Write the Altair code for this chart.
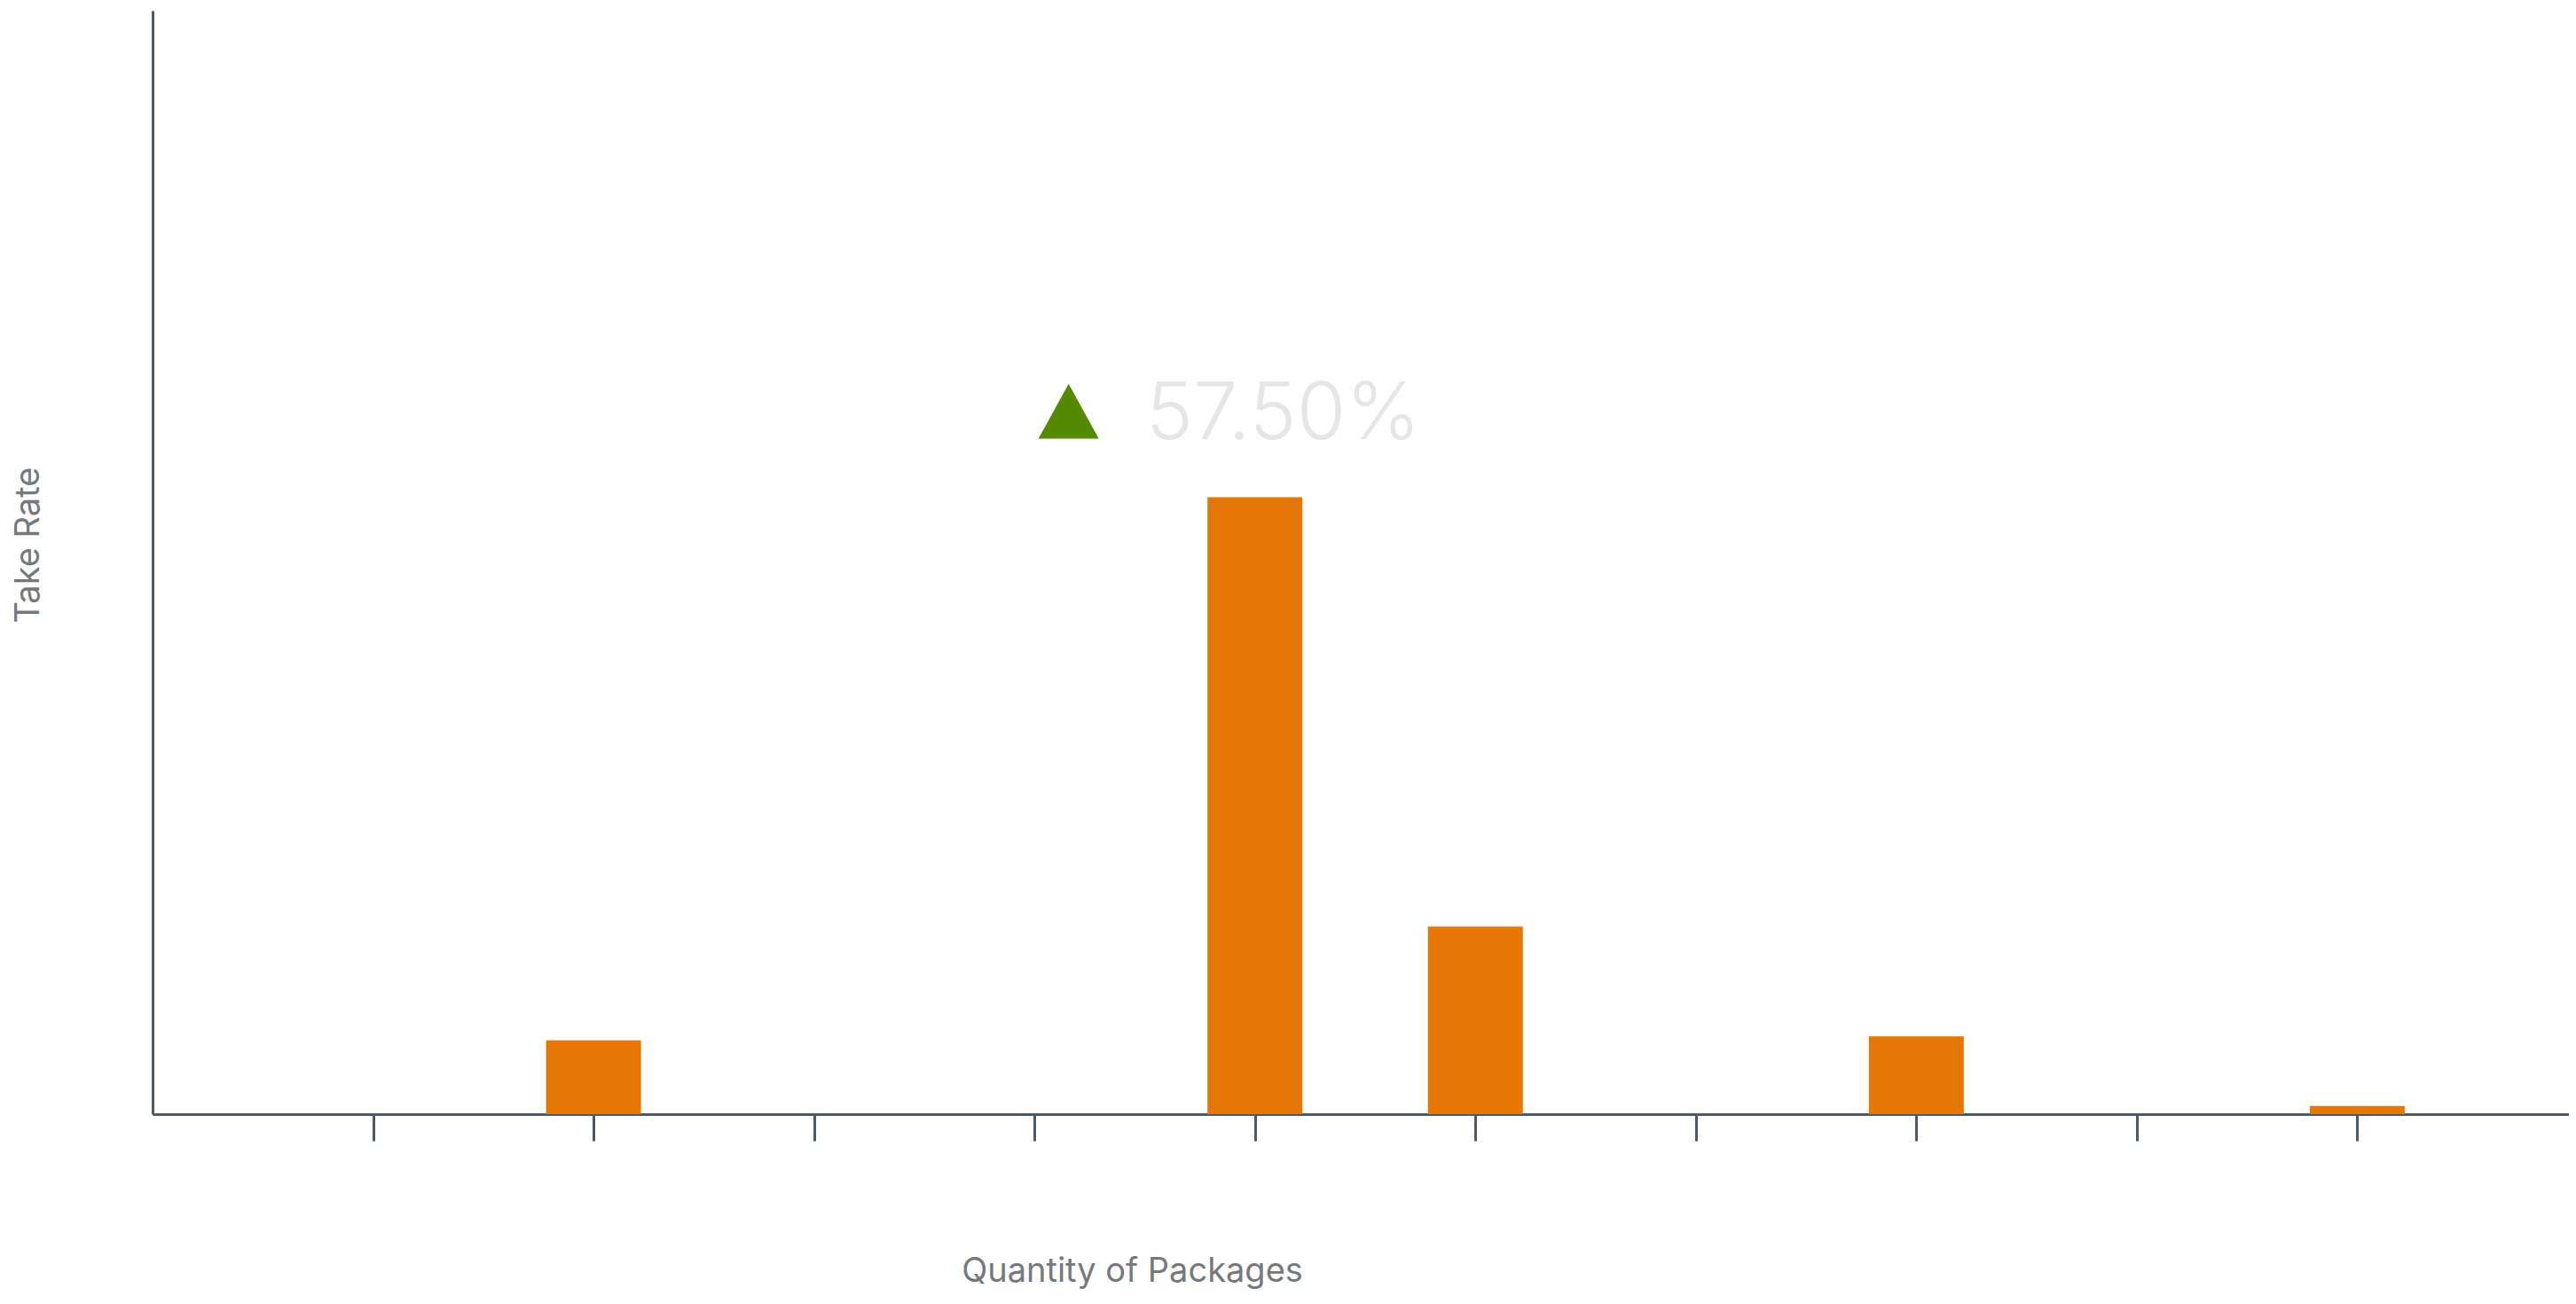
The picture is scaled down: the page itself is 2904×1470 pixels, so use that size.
import altair as alt
import pandas as pd

# Data
quantities = [2, 5, 6, 8, 10]
take_rates = [0.067, 0.559, 0.170, 0.0705, 0.0075]
x_tick_values = [1, 2, 3, 4, 5, 6, 7, 8, 9, 10]
delta_quantity = [5]
delta_rate = [0.559]
delta_label = ["57.50%"]

bars_df = pd.DataFrame({"Quantity": quantities, "Take Rate": take_rates})
ann_df = pd.DataFrame({"Quantity": delta_quantity, "Take Rate": delta_rate, "label": delta_label})

AXIS = "#4f5961"
TITLE = "#76797c"

x_enc = alt.X(
    "Quantity:Q",
    scale=alt.Scale(domain=[0, 10.96], nice=False, zero=False, padding=0),
    axis=alt.Axis(
        values=x_tick_values, labels=False, grid=False,
        tickSize=30, tickWidth=3, tickColor=AXIS,
        domainColor=AXIS, domainWidth=3,
        title="Quantity of Packages", titleX=1104, titleY=188,
        titleFont="Inter", titleFontSize=38, titleFontWeight="normal",
        titleColor=TITLE, titleBaseline="alphabetic", titleAlign="center",
    ),
)
y_enc = alt.Y(
    "Take Rate:Q",
    scale=alt.Scale(domain=[0, 1], nice=False, padding=0),
    axis=alt.Axis(
        ticks=False, labels=False, grid=False,
        domainColor=AXIS, domainWidth=3,
        title="Take Rate", titleX=-129, titleY=602, titleAngle=270,
        titleFont="Inter", titleFontSize=38, titleFontWeight="normal",
        titleColor=TITLE, titleBaseline="alphabetic", titleAlign="center",
    ),
)

bars = alt.Chart(bars_df).mark_bar(size=107, color="#e57804").encode(x=x_enc, y=y_enc)

tri = alt.Chart(ann_df).mark_point(
    shape="M0,-0.91L-1,0.91L1,0.91Z", size=4624, filled=True,
    color="#558a00", opacity=1, strokeWidth=0, xOffset=-210, yOffset=-97,
).encode(x="Quantity:Q", y="Take Rate:Q")

txt = alt.Chart(ann_df).mark_text(
    align="left", baseline="alphabetic", dx=-123, dy=-66,
    font="Inter", fontWeight=300, fontSize=90, color="#e6e6e6",
).encode(x="Quantity:Q", y="Take Rate:Q", text="label:N")

chart = (
    alt.layer(bars, tri, txt)
    .properties(
        width=2724, height=1244,
        autosize=alt.AutoSizeParams(type="none"),
        padding={"left": 164, "top": 4, "right": 0, "bottom": 200},
        background="white",
    )
    .configure_view(stroke=None)
)

chart.save("out.html", embed_options={"renderer": "svg", "actions": False})
